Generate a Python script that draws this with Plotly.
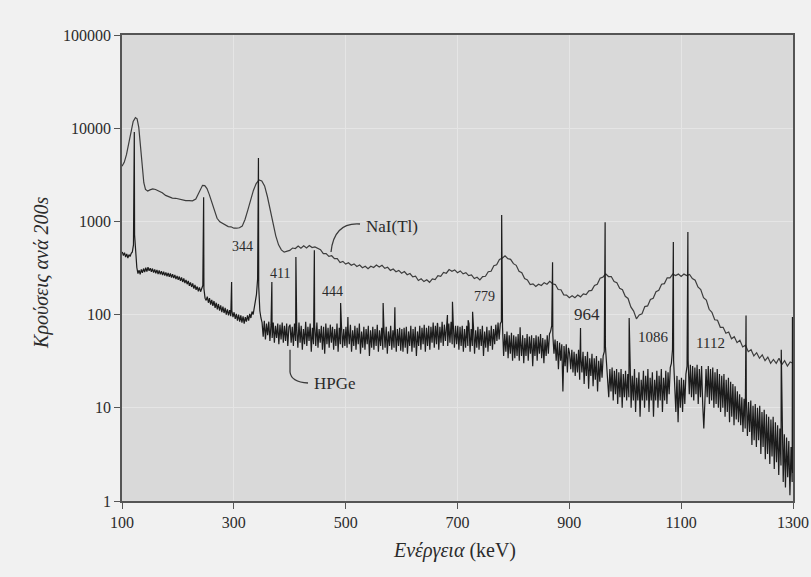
import plotly.graph_objects as go

# ---- NaI(Tl) spectrum (keV, counts per 200 s) ----
# low-energy part, irregular spacing
nai_energy_low = [100, 104, 108, 112, 116, 120, 124, 127, 130, 133, 136, 139, 142, 146, 150, 155,
                  160, 166, 172, 178, 184, 190, 196, 202, 208, 214, 220, 226, 232, 236, 240, 244,
                  248, 252, 256, 260, 265, 270, 275, 280, 285, 290, 295, 300, 305, 310, 315, 320,
                  325, 330, 335, 340, 345, 350, 355, 360, 365, 370, 375]
nai_counts_low = [3900, 4300, 5200, 6800, 9200, 11800, 13000, 12600, 10200, 6500, 3900, 2600,
                  2200, 2120, 2180, 2230, 2200, 2120, 2030, 1900, 1850, 1780, 1770, 1730, 1700,
                  1670, 1670, 1660, 1740, 1950, 2250, 2440, 2420, 2250, 1950, 1620, 1310, 1080,
                  990, 950, 915, 880, 875, 845, 845, 855, 890, 1050, 1320, 1700, 2150, 2550, 2780,
                  2720, 2400, 1850, 1350, 950, 700]
# 380 - 1300 keV, one value every 5 keV
nai_tail_start, nai_tail_step = 380, 5
nai_counts_tail = [
    560, 495, 468, 478, 488, 518, 512, 545, 515, 548, 520, 552, 524, 532, 510, 498, 452, 452, 422, 428,
    398, 398, 362, 372, 348, 360, 338, 350, 328, 340, 318, 330, 310, 330, 320, 340, 324, 338, 314, 322,
    298, 308, 288, 298, 278, 290, 268, 276, 254, 258, 232, 242, 226, 236, 222, 242, 238, 262, 258, 284,
    278, 304, 292, 302, 282, 294, 274, 282, 262, 266, 244, 252, 236, 256, 258, 288, 292, 334, 342, 390,
    402, 428, 398, 392, 352, 338, 292, 282, 244, 236, 210, 214, 200, 212, 205, 220, 212, 228, 214, 210,
    186, 185, 163, 162, 152, 159, 152, 162, 155, 167, 164, 180, 182, 206, 212, 246, 252, 274, 256, 256,
    226, 220, 192, 185, 157, 149, 121, 109, 90, 99, 102, 122, 124, 145, 150, 176, 182, 212, 215, 248,
    248, 272, 262, 272, 256, 272, 262, 270, 244, 234, 198, 186, 152, 143, 114, 106, 88, 87, 73, 73,
    63, 65, 55, 58, 50, 53, 45, 47, 40, 42, 36, 39, 34, 37, 32, 35, 30, 33, 30, 34,
    29, 32, 28, 31, 30,
]

# ---- HPGe spectrum: continuum channels every 2 keV from 100.5 to 1298.5 keV ----
hpge_start, hpge_step = 100.5, 2
hpge_counts = [
    # 100 - 200 keV
    470, 430, 462, 415, 448, 405, 440, 420, 455, 470, 560, 720, 430, 320, 275, 300, 270, 305, 280, 312,
    286, 318, 290, 322, 295, 315, 288, 312, 282, 306, 278, 302, 272, 298, 270, 292, 266, 288, 262, 284,
    258, 280, 255, 276, 250, 272, 246, 266, 240, 260,
    # 200 - 300 keV
    236, 256, 230, 250, 224, 244, 218, 236, 212, 230, 204, 222, 198, 216, 190, 208, 184, 200, 178, 196,
    176, 190, 205, 190, 150, 142, 156, 134, 150, 128, 144, 124, 140, 118, 134, 114, 130, 110, 126, 106,
    122, 104, 118, 100, 114, 98, 112, 96, 110, 94,
    # 300 - 400 keV
    106, 90, 102, 86, 100, 84, 98, 82, 96, 80, 94, 84, 98, 86, 102, 92, 108, 100, 120, 138,
    165, 240, 200, 110, 92, 82, 58, 86, 54, 80, 60, 84, 52, 78, 56, 82, 50, 76, 56, 80,
    48, 78, 54, 82, 50, 76, 52, 80, 46, 74,
    # 400 - 500 keV
    78, 50, 74, 46, 80, 52, 72, 44, 82, 50, 76, 42, 70, 48, 84, 46, 74, 52, 80, 40,
    72, 48, 78, 46, 82, 44, 70, 50, 76, 42, 74, 38, 80, 48, 72, 44, 78, 50, 74, 42,
    70, 46, 80, 40, 72, 48, 76, 44, 70, 46,
    # 500 - 600 keV
    74, 44, 70, 48, 78, 40, 68, 46, 76, 42, 72, 48, 80, 38, 66, 44, 74, 42, 70, 48,
    76, 36, 68, 44, 74, 42, 70, 46, 78, 40, 68, 46, 72, 42, 70, 44, 74, 38, 66, 46,
    76, 42, 68, 44, 74, 40, 70, 46, 72, 41,
    # 600 - 700 keV
    70, 40, 72, 44, 74, 38, 66, 46, 76, 40, 70, 44, 74, 36, 66, 46, 76, 42, 72, 48,
    78, 40, 72, 46, 76, 42, 74, 50, 82, 44, 76, 48, 80, 42, 74, 50, 84, 46, 78, 52,
    86, 46, 80, 50, 84, 48, 78, 44, 76, 48,
    # 700 - 800 keV
    76, 42, 74, 46, 76, 40, 70, 44, 76, 46, 80, 40, 70, 46, 76, 38, 68, 44, 74, 42,
    70, 46, 76, 36, 66, 44, 74, 40, 68, 46, 76, 42, 70, 48, 78, 52, 82, 54, 80, 84,
    74, 36, 62, 40, 66, 34, 60, 38, 64, 32,
    # 800 - 900 keV
    60, 34, 58, 36, 62, 32, 56, 36, 60, 30, 56, 36, 62, 32, 58, 38, 60, 28, 56, 36,
    60, 32, 58, 38, 62, 34, 56, 30, 54, 36, 60, 38, 62, 66, 76, 60, 38, 54, 32, 52,
    26, 50, 32, 48, 15, 46, 28, 48, 24, 44,
    # 900 - 1000 keV
    38, 26, 42, 24, 40, 22, 38, 24, 42, 20, 36, 24, 40, 18, 36, 22, 40, 16, 34, 22,
    38, 17, 34, 20, 36, 15, 32, 19, 34, 21, 36, 40, 46, 30, 20, 13, 26, 15, 27, 12,
    25, 14, 26, 11, 24, 13, 26, 10, 23, 13,
    # 1000 - 1100 keV
    25, 12, 23, 13, 25, 10, 22, 12, 26, 9, 21, 12, 24, 8, 20, 12, 25, 10, 22, 12,
    26, 9, 21, 12, 24, 8, 20, 12, 25, 10, 22, 12, 26, 9, 21, 12, 25, 11, 24, 14,
    27, 30, 42, 32, 14, 9, 22, 7, 20, 10,
    # 1100 - 1200 keV
    21, 9, 20, 11, 23, 28, 32, 14, 29, 13, 28, 12, 27, 14, 29, 11, 26, 13, 28, 11,
    6, 12, 26, 13, 28, 11, 26, 12, 27, 10, 24, 11, 26, 10, 23, 9, 22, 10, 23, 8,
    20, 9, 21, 7, 19, 8, 18, 6.5, 17, 7.5,
    # 1200 - 1300 keV
    15, 7, 14, 6.5, 13, 5.5, 12.5, 6, 13, 5, 11.5, 5.5, 12, 4, 10.5, 4.5, 11, 3.8, 10, 4.5,
    10.5, 3.2, 9, 3.8, 9.5, 2.8, 8.5, 3.2, 8, 2.5, 7.5, 3, 8, 2.2, 7, 2.6, 6.5, 1.9, 6, 2.4,
    5.8, 1.6, 5.2, 1.4, 4.8, 1.8, 4.4, 1.15, 3.8, 1.6,
]
hpge_last = (1300, 2)

# HPGe photopeaks (keV, peak counts)
peak_energy = [122, 246, 296, 344, 368, 411, 444, 491, 504, 567, 588, 664, 682, 691, 719, 727,
               779, 812, 870, 920, 964, 1007, 1086, 1112, 1216, 1279, 1299]
peak_counts = [9100, 1820, 224, 4800, 224, 415, 490, 133, 94, 133, 120, 81, 99, 137, 87, 107,
               1170, 73, 365, 72, 980, 92, 600, 770, 98, 42, 94]

# Peak labels: text, energy position, log10(counts) position, font size
label_text = ["344", "411", "444", "779", "964", "1086", "1112"]
label_x = [316, 383, 477, 749, 932, 1051, 1152]
label_logy = [2.736, 2.446, 2.253, 2.189, 2.006, 1.760, 1.695]
label_size = [14, 14, 14, 14, 17, 15, 15]

x_ticks = [100, 300, 500, 700, 900, 1100, 1300]
y_ticks = [1, 10, 100, 1000, 10000, 100000]

# assemble the NaI(Tl) trace
nai_e = nai_energy_low + [nai_tail_start + nai_tail_step * i for i in range(len(nai_counts_tail))]
nai_c = nai_counts_low + nai_counts_tail

# assemble the HPGe trace: continuum channels plus photopeak maxima
grid_e = [hpge_start + hpge_step * i for i in range(len(hpge_counts))]
pts = sorted(list(zip(grid_e, hpge_counts)) + list(zip(peak_energy, peak_counts)) + [hpge_last])
hpge_e = [p[0] for p in pts]
hpge_c = [p[1] for p in pts]

serif = "Liberation Serif, Times New Roman, serif"
ink = "#2b2b2b"

fig = go.Figure()
fig.add_trace(go.Scatter(x=nai_e, y=nai_c, mode="lines",
                         line=dict(color="#3d3d3d", width=1.2), name="NaI(Tl)"))
fig.add_trace(go.Scatter(x=hpge_e, y=hpge_c, mode="lines",
                         line=dict(color="#1c1c1c", width=1.2), name="HPGe"))

ann = []
for t, x, ly, s in zip(label_text, label_x, label_logy, label_size):
    ann.append(dict(x=x, y=ly, xref="x", yref="y", text=t, showarrow=False,
                    xanchor="center", yanchor="middle",
                    font=dict(family=serif, size=s, color=ink)))
ann.append(dict(x=583, y=2.94, xref="x", yref="y", text="NaI(Tl)", showarrow=False,
                xanchor="center", yanchor="middle",
                font=dict(family=serif, size=17, color=ink)))
ann.append(dict(x=481, y=1.266, xref="x", yref="y", text="HPGe", showarrow=False,
                xanchor="center", yanchor="middle",
                font=dict(family=serif, size=17, color=ink)))
ann.append(dict(x=0.496, y=-0.107, xref="paper", yref="paper",
                text="<i>Ενέργεια</i> (keV)", showarrow=False,
                xanchor="center", yanchor="middle",
                font=dict(family=serif, size=20, color=ink)))
ann.append(dict(x=-0.121, y=0.489, xref="paper", yref="paper",
                text="<i>Κρούσεις ανά 200s</i>", showarrow=False, textangle=-90,
                xanchor="center", yanchor="middle",
                font=dict(family=serif, size=20, color=ink)))

# curved leader lines from the labels to the traces (paper units)
shapes = [
    dict(type="path", xref="paper", yref="paper",
         path="M 0.3547 0.5944 Q 0.3159 0.5987 0.3115 0.5343",
         line=dict(color="#3a3a3a", width=1.3)),
    dict(type="path", xref="paper", yref="paper",
         path="M 0.2504 0.3248 L 0.2504 0.2768 Q 0.2519 0.2554 0.2772 0.2532",
         line=dict(color="#3a3a3a", width=1.3)),
]

axis_common = dict(showline=True, linecolor="#555555", linewidth=1.5, mirror=True,
                   ticks="outside", ticklen=6, tickcolor="#555555", tickwidth=1.3,
                   showgrid=True, gridcolor="#e5e5e5", gridwidth=1, zeroline=False,
                   automargin=False,
                   tickfont=dict(family=serif, size=16, color=ink))

fig.update_layout(
    width=811, height=577,
    margin=dict(l=122, r=18, t=35, b=76),
    paper_bgcolor="#f1f1f1",
    plot_bgcolor="#d9d9d9",
    showlegend=False,
    annotations=ann,
    shapes=shapes,
    xaxis=dict(range=[100, 1300], tickvals=x_ticks, ticktext=[str(v) for v in x_ticks],
               **axis_common),
    yaxis=dict(type="log", range=[0, 5], tickvals=y_ticks, ticktext=[str(v) for v in y_ticks],
               **axis_common),
)

fig.write_html("out.html")
